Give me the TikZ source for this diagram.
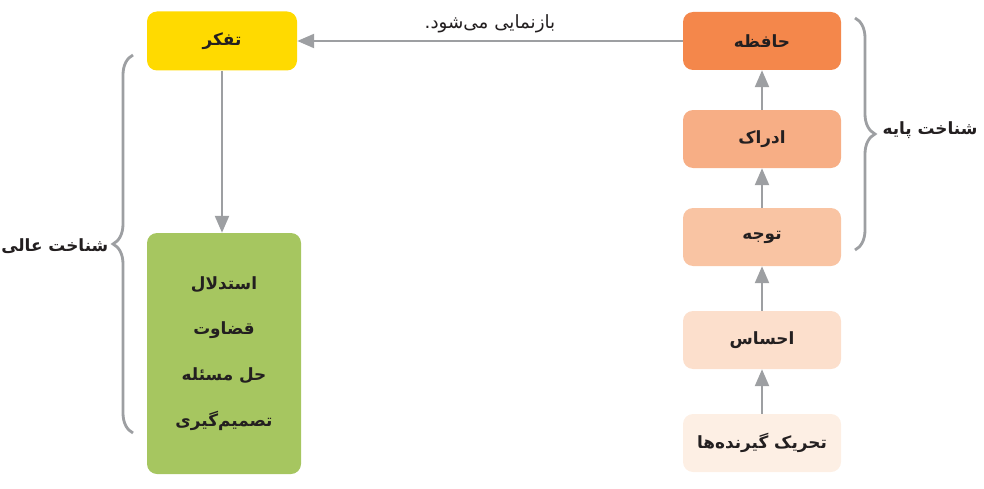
\documentclass[tikz,border=0pt]{standalone}
\usepackage{fontspec}
\usetikzlibrary{arrows.meta, decorations.pathreplacing}
\TeXXeTstate=1
\newfontfamily\fa[Script=Arabic]{DejaVu Sans}
\definecolor{thinkcol}{HTML}{FFDA00}
\definecolor{memcol}{HTML}{F4874B}
\definecolor{percol}{HTML}{F7AE85}
\definecolor{attcol}{HTML}{F9C4A3}
\definecolor{senscol}{HTML}{FCDFCC}
\definecolor{stimcol}{HTML}{FDEFE4}
\definecolor{highcol}{HTML}{A6C660}
\definecolor{linecol}{HTML}{9D9FA2}
\definecolor{inkcol}{HTML}{231F20}

\begin{document}
\begin{tikzpicture}[
        box/.style={rounded corners=0.25cm, minimum width=3.95cm, minimum height=1.45cm, text=inkcol, font=\fa\bfseries\fontsize{12}{14}\selectfont},
        link/.style={draw=linecol, line width=1.4pt, -{Triangle[length=12pt,width=10pt]}},
        curly/.style={draw=linecol, line width=2pt, decorate, decoration={brace, amplitude=0.5cm}},
        side/.style={text=inkcol, font=\fa\bfseries\fontsize{12}{14}\selectfont}
    ]
        \useasboundingbox (0,0) rectangle (24.6,12.2);

        % right column
        \node[box, fill=memcol] (memory) at (19.05,11.175) {\beginR حافظه\endR};
        \node[box, fill=percol] (percept) at (19.05,8.725) {\beginR ادراک\endR};
        \node[box, fill=attcol] (attend) at (19.05,6.275) {\beginR توجه\endR};
        \node[box, fill=senscol] (sense) at (19.05,3.7) {\beginR احساس\endR};
        \node[box, fill=stimcol] (stim) at (19.05,1.125) {\beginR تحریک گیرنده‌ها\endR};

        % left column
        \node[box, fill=thinkcol, minimum width=3.75cm, minimum height=1.475cm] (think) at (5.55,11.175) {\beginR تفکر\endR};
        \node[box, fill=highcol, minimum width=3.85cm, minimum height=6.025cm, align=center, font=\fa\bfseries\fontsize{12}{32.6}\selectfont] (high) at (5.6,3.3625)
            {\beginR استدلال\endR\\ \beginR قضاوت\endR\\ \beginR حل مسئله\endR\\ \beginR تصمیم‌گیری\endR};

        \draw[link] (stim) -- (sense);
        \draw[link] (sense) -- (attend);
        \draw[link] (attend) -- (percept);
        \draw[link] (percept) -- (memory);
        \draw[link] (memory) -- node[above=0.05cm, text=inkcol, font=\fa\fontsize{13}{15}\selectfont] (relabel) {\beginR بازنمایی می‌شود.\endR} (think);
        \draw[link] (think) -- (think |- high.north);

        % braces
        \coordinate (bt) at (21.375,11.75);
        \coordinate (bb) at (21.375,5.95);
        \draw[curly] (bt) -- (bb);
        \node[side] (basic) at (23.25,8.95) {\beginR شناخت پایه\endR};

        \coordinate (hb) at (3.325,1.375);
        \coordinate (ht) at (3.325,10.825);
        \draw[curly] (hb) -- (ht);
        \node[side] (higher) at (1.37,6.05) {\beginR شناخت عالی\endR};
    \end{tikzpicture}
\end{document}
